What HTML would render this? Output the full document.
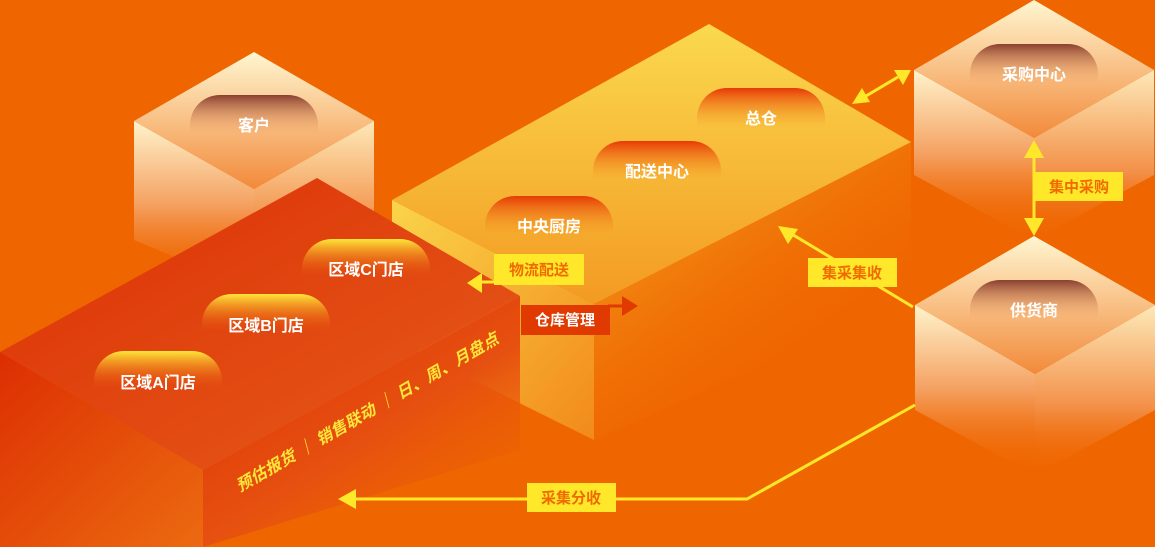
<!DOCTYPE html>
<html><head><meta charset="utf-8"><style>
html,body{margin:0;padding:0;background:#ef6600;}
svg{display:block}
text{font-family:"Liberation Sans","Noto Sans CJK SC",sans-serif;font-weight:bold;}
</style></head><body>
<svg width="1155" height="547" viewBox="0 0 1155 547" xmlns="http://www.w3.org/2000/svg">
<defs>
<linearGradient id="ctop" x1="0" y1="0" x2="0" y2="1"><stop offset="0" stop-color="#fff6d0"/><stop offset="1" stop-color="#f28a3a"/></linearGradient>
<linearGradient id="cside" x1="0" y1="0" x2="0" y2="1"><stop offset="0" stop-color="#fff3cc"/><stop offset="0.5" stop-color="#f4a060"/><stop offset="1" stop-color="#ef6600" stop-opacity="0"/></linearGradient>
<linearGradient id="cside2" x1="0" y1="0" x2="0" y2="1"><stop offset="0" stop-color="#fde9b8"/><stop offset="0.6" stop-color="#f39048"/><stop offset="1" stop-color="#ef6600" stop-opacity="0"/></linearGradient>
<linearGradient id="ytop" x1="0" y1="0" x2="0" y2="1"><stop offset="0" stop-color="#fbd94e"/><stop offset="1" stop-color="#f39a22"/></linearGradient>
<linearGradient id="yleft" x1="0" y1="0" x2="1" y2="1"><stop offset="0" stop-color="#fad44a"/><stop offset="1" stop-color="#f28a1a"/></linearGradient>
<linearGradient id="yright" x1="0" y1="0" x2="0.6" y2="0.8"><stop offset="0" stop-color="#fcd84c"/><stop offset="0.35" stop-color="#f28a14"/><stop offset="1" stop-color="#ef6600" stop-opacity="0"/></linearGradient>
<linearGradient id="rtop" x1="0" y1="0" x2="1" y2="1"><stop offset="0" stop-color="#dc3006"/><stop offset="1" stop-color="#e65c1a"/></linearGradient>
<linearGradient id="rleft" x1="0" y1="0" x2="1" y2="1"><stop offset="0" stop-color="#dc2e02"/><stop offset="1" stop-color="#ec6a10"/></linearGradient>
<linearGradient id="rright" x1="0" y1="0" x2="0.8" y2="1"><stop offset="0" stop-color="#dc2e02"/><stop offset="0.6" stop-color="#e65010"/><stop offset="1" stop-color="#ef6600" stop-opacity="0.3"/></linearGradient>
<linearGradient id="pbrown" x1="0" y1="0" x2="0" y2="1"><stop offset="0" stop-color="#8a4030"/><stop offset="1" stop-color="#f4a060" stop-opacity="0"/></linearGradient>
<linearGradient id="pred" x1="0" y1="0" x2="0" y2="1"><stop offset="0" stop-color="#e83a06"/><stop offset="1" stop-color="#f39a22" stop-opacity="0"/></linearGradient>
<linearGradient id="pyel" x1="0" y1="0" x2="0" y2="1"><stop offset="0" stop-color="#ffe63a"/><stop offset="1" stop-color="#e64a08" stop-opacity="0"/></linearGradient>
</defs>

<polygon points="134,121 254,189 254,290 134,240" fill="url(#cside)"/>
<polygon points="374,121 254,189 254,290 374,240" fill="url(#cside2)"/>
<polygon points="254,52 374,121 254,189 134,121" fill="url(#ctop)"/>
<path d="M190,135 v-10 a30,30 0 0 1 30,-30 h68 a30,30 0 0 1 30,30 v10 z" fill="url(#pbrown)"/>
<text x="254" y="131" font-size="16" fill="#fff" text-anchor="middle">客户</text>

<polygon points="392,200 594,304 594,440 392,340" fill="url(#yleft)"/>
<polygon points="594,304 911,142 911,300 594,440" fill="url(#yright)"/>
<polygon points="709,24 911,142 594,304 392,200" fill="url(#ytop)"/>
<path d="M697,128 v-10 a30,30 0 0 1 30,-30 h68 a30,30 0 0 1 30,30 v10 z" fill="url(#pred)"/>
<text x="761" y="124" font-size="16" fill="#fff" text-anchor="middle">总仓</text>
<path d="M593,181 v-10 a30,30 0 0 1 30,-30 h68 a30,30 0 0 1 30,30 v10 z" fill="url(#pred)"/>
<text x="657" y="177" font-size="16" fill="#fff" text-anchor="middle">配送中心</text>
<path d="M485,236 v-10 a30,30 0 0 1 30,-30 h68 a30,30 0 0 1 30,30 v10 z" fill="url(#pred)"/>
<text x="549" y="232" font-size="16" fill="#fff" text-anchor="middle">中央厨房</text>

<polygon points="0,352 203,470 203,547 0,547" fill="url(#rleft)"/>
<polygon points="203,470 520,296 520,450 203,547" fill="url(#rright)"/>
<polygon points="317,178 520,296 203,470 0,352" fill="url(#rtop)"/>
<path d="M302,278 v-9 a30,30 0 0 1 30,-30 h68 a30,30 0 0 1 30,30 v9 z" fill="url(#pyel)"/>
<text x="366" y="275" font-size="16" fill="#fff" text-anchor="middle">区域C门店</text>
<path d="M202,333 v-9 a30,30 0 0 1 30,-30 h68 a30,30 0 0 1 30,30 v9 z" fill="url(#pyel)"/>
<text x="266" y="331" font-size="16" fill="#fff" text-anchor="middle">区域B门店</text>
<path d="M94,390 v-9 a30,30 0 0 1 30,-30 h68 a30,30 0 0 1 30,30 v9 z" fill="url(#pyel)"/>
<text x="158" y="388" font-size="16" fill="#fff" text-anchor="middle">区域A门店</text>
<text transform="translate(240,492) rotate(-30) skewX(-15)" font-size="16" fill="#ffe63a" textLength="300" lengthAdjust="spacing">预估报货 ｜ 销售联动 ｜ 日、周、月盘点</text>

<polygon points="914,70 1034,138 1034,240 914,175" fill="url(#cside)"/>
<polygon points="1154,70 1034,138 1034,240 1154,175" fill="url(#cside2)"/>
<polygon points="1034,0 1154,70 1034,138 914,70" fill="url(#ctop)"/>
<path d="M970,84 v-10 a30,30 0 0 1 30,-30 h68 a30,30 0 0 1 30,30 v10 z" fill="url(#pbrown)"/>
<text x="1034" y="80" font-size="16" fill="#fff" text-anchor="middle">采购中心</text>

<polygon points="915,305 1035,374 1035,475 915,410" fill="url(#cside)"/>
<polygon points="1155,305 1035,374 1035,475 1155,410" fill="url(#cside2)"/>
<polygon points="1034,236 1155,305 1035,374 915,305" fill="url(#ctop)"/>
<path d="M970,320 v-10 a30,30 0 0 1 30,-30 h68 a30,30 0 0 1 30,30 v10 z" fill="url(#pbrown)"/>
<text x="1034" y="316" font-size="16" fill="#fff" text-anchor="middle">供货商</text>

<g stroke="#ffe82a" stroke-width="3" fill="none">
<line x1="866" y1="96" x2="898" y2="77"/>
<line x1="1034" y1="155" x2="1034" y2="220"/>
<line x1="913" y1="307" x2="790" y2="233"/>
<polyline points="915,405 747,499 355,499"/>
<line x1="494" y1="282" x2="480" y2="282"/>
</g>
<g fill="#ffe82a">
<polygon points="852,104 862,88 870,102"/>
<polygon points="911,70 894,70 903,85"/>
<polygon points="1034,140 1024,158 1044,158"/>
<polygon points="1034,236 1024,218 1044,218"/>
<polygon points="778,226 798,229 788,244"/>
<polygon points="338,499 356,489 356,509"/>
<polygon points="467,283 482,273 482,293"/>
</g>
<polygon points="638,306 622,296 622,316" fill="#e03a00"/>
<line x1="608" y1="306" x2="624" y2="306" stroke="#e03a00" stroke-width="3"/>

<rect x="494" y="254" width="90" height="31" fill="#ffe82a"/>
<text x="539" y="275" font-size="15" fill="#f06a00" text-anchor="middle">物流配送</text>
<rect x="521" y="305" width="89" height="30" fill="#e03a00"/>
<text x="565" y="325" font-size="15" fill="#fff" text-anchor="middle">仓库管理</text>
<rect x="808" y="258" width="89" height="29" fill="#ffe82a"/>
<text x="852" y="278" font-size="15" fill="#f06a00" text-anchor="middle">集采集收</text>
<rect x="1035" y="172" width="88" height="29" fill="#ffe82a"/>
<text x="1079" y="192" font-size="15" fill="#f06a00" text-anchor="middle">集中采购</text>
<rect x="527" y="483" width="89" height="29" fill="#ffe82a"/>
<text x="571" y="503" font-size="15" fill="#f06a00" text-anchor="middle">采集分收</text>
</svg>
</body></html>
